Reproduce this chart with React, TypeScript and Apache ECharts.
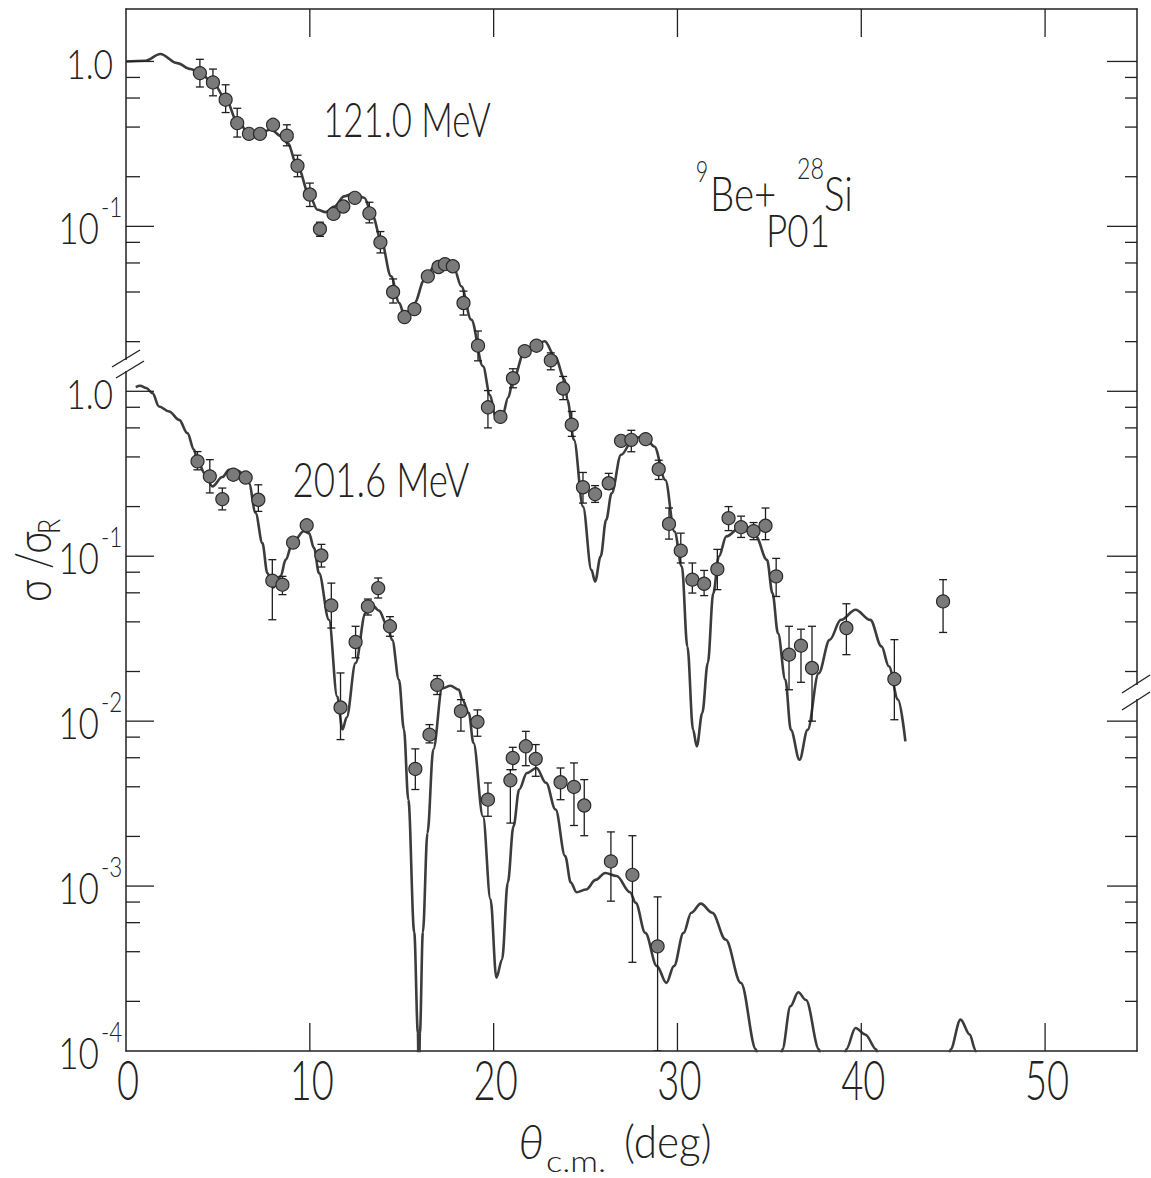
import React, { useEffect, useRef } from 'react';
import * as echarts from 'echarts';

// ---------- data: 121.0 MeV (upper panel, shifted up two decades) ----------
const UP_DEG = [4.02, 4.73, 5.42, 6.05, 6.69, 7.29, 8.0, 8.75, 9.33, 10.0, 10.55, 11.29, 11.82, 12.45, 13.24, 13.84, 14.53, 15.15, 15.69, 16.42, 17.0, 17.35, 17.78, 18.36, 19.15, 19.69, 20.37, 21.05, 21.69, 22.33, 23.11, 23.78, 24.25, 24.86, 25.52, 26.26, 26.93, 27.49, 28.27, 28.98, 29.54, 30.18, 30.81, 31.45, 32.17, 32.78, 33.46, 34.14, 34.79, 35.37, 36.07, 36.72, 37.32, 39.19, 41.8, 44.45];
const UP_VAL = [0.85, 0.746, 0.586, 0.423, 0.364, 0.364, 0.413, 0.355, 0.233, 0.156, 0.0964, 0.119, 0.132, 0.149, 0.12, 0.08, 0.04, 0.0282, 0.0315, 0.0498, 0.0567, 0.059, 0.0573, 0.0343, 0.0189, 0.008, 0.007, 0.012, 0.0175, 0.0189, 0.0154, 0.0104, 0.00627, 0.00262, 0.00238, 0.00277, 0.00501, 0.00508, 0.00513, 0.00337, 0.00157, 0.00108, 0.000721, 0.000681, 0.000835, 0.0017, 0.0015, 0.00142, 0.00153, 0.000755, 0.000253, 0.000287, 0.00021, 0.000367, 0.00018, 0.000532];
const UP_LO = [0.70, 0.619, 0.49, 0.348, 0.364, 0.364, 0.413, 0.308, 0.2, 0.132, 0.087, 0.119, 0.132, 0.149, 0.105, 0.069, 0.0343, 0.0282, 0.0315, 0.0498, 0.0567, 0.059, 0.0573, 0.029, 0.0153, 0.006, 0.007, 0.0105, 0.0175, 0.0189, 0.0135, 0.0089, 0.00533, 0.0021, 0.00212, 0.00255, 0.00501, 0.0043, 0.00513, 0.00292, 0.00127, 0.00091, 0.000598, 0.000577, 0.000627, 0.00143, 0.0013, 0.00126, 0.00126, 0.00057, 0.000155, 0.000172, 0.0001, 0.000253, 0.000102, 0.000345];
const UP_HI = [1.03, 0.899, 0.722, 0.52, 0.364, 0.364, 0.413, 0.413, 0.27, 0.183, 0.106, 0.119, 0.132, 0.149, 0.14, 0.093, 0.048, 0.0282, 0.0315, 0.0498, 0.0567, 0.059, 0.0573, 0.0405, 0.0232, 0.0101, 0.007, 0.0137, 0.0175, 0.0189, 0.0171, 0.0123, 0.00755, 0.00322, 0.00268, 0.00318, 0.00501, 0.0058, 0.00513, 0.00382, 0.00196, 0.00138, 0.00091, 0.00082, 0.0011, 0.002, 0.00175, 0.0016, 0.00196, 0.00097, 0.000376, 0.000361, 0.000376, 0.000515, 0.000312, 0.000721];

// ---------- data: 201.6 MeV (lower panel) ----------
const LO_DEG = [3.89, 4.56, 5.24, 5.84, 6.51, 7.2, 7.96, 8.51, 9.09, 9.83, 10.63, 11.17, 11.67, 12.49, 13.16, 13.72, 14.36, 15.74, 16.51, 16.93, 18.22, 19.12, 19.69, 20.91, 21.04, 21.75, 22.29, 23.64, 24.37, 24.93, 26.38, 27.55, 28.92];
const LO_VAL = [0.376, 0.305, 0.222, 0.312, 0.30, 0.22, 0.0711, 0.0672, 0.121, 0.154, 0.101, 0.0503, 0.0121, 0.0302, 0.0496, 0.0641, 0.0376, 0.00513, 0.00828, 0.0166, 0.0115, 0.0099, 0.00334, 0.00438, 0.00598, 0.00704, 0.0059, 0.00426, 0.00399, 0.00308, 0.00141, 0.00117, 0.000431];
const LO_LO = [0.334, 0.242, 0.191, 0.312, 0.30, 0.187, 0.0412, 0.0585, 0.121, 0.154, 0.086, 0.0367, 0.00773, 0.0242, 0.044, 0.0558, 0.0327, 0.00385, 0.00738, 0.0145, 0.0087, 0.0081, 0.00265, 0.00241, 0.00508, 0.00537, 0.00463, 0.00334, 0.00233, 0.00202, 0.00081, 0.000345, 0.0001];
const LO_HI = [0.431, 0.385, 0.259, 0.312, 0.30, 0.271, 0.0953, 0.0755, 0.121, 0.154, 0.118, 0.0687, 0.0196, 0.0376, 0.055, 0.0738, 0.043, 0.00679, 0.00953, 0.0189, 0.0135, 0.0117, 0.00422, 0.00508, 0.00694, 0.00867, 0.00721, 0.0052, 0.00558, 0.00442, 0.00213, 0.00202, 0.00086];

// ---------- optical-model curves ----------
const UP_TH_DEG = [0, 1.05, 1.87, 2.78, 3.51, 4.02, 4.73, 5.42, 6.05, 6.69, 7.29, 7.87, 8.5, 8.78, 9.33, 10.0, 10.42, 10.87, 11.33, 11.87, 12.42, 12.96, 13.42, 13.87, 14.42, 14.87, 15.15, 15.69, 16.24, 16.78, 17.36, 17.87, 18.24, 18.78, 19.42, 19.8, 20.1, 20.45, 20.8, 21.05, 21.69, 22.33, 22.78, 23.33, 23.87, 24.01, 24.37, 24.86, 25.32, 25.52, 25.82, 26.12, 26.42, 26.93, 27.63, 28.23, 28.74, 29.34, 29.84, 30.24, 30.54, 30.85, 31.05, 31.35, 31.65, 31.95, 32.25, 32.66, 33.46, 34.26, 34.87, 35.17, 35.47, 35.87, 36.17, 36.64, 37.08, 37.68, 38.28, 38.89, 39.69, 40.49, 41.1, 41.5, 42.0, 42.4];
const UP_TH_VAL = [1.0, 1.01, 1.11, 0.977, 0.90, 0.849, 0.746, 0.592, 0.433, 0.368, 0.37, 0.385, 0.35, 0.32, 0.231, 0.152, 0.126, 0.122, 0.132, 0.152, 0.159, 0.149, 0.115, 0.083, 0.0498, 0.0343, 0.0285, 0.0343, 0.0475, 0.0573, 0.0614, 0.0546, 0.0433, 0.0272, 0.0142, 0.0095, 0.007, 0.0069, 0.0092, 0.0117, 0.0175, 0.0192, 0.0201, 0.0163, 0.0118, 0.00887, 0.00508, 0.002, 0.000826, 0.000703, 0.000995, 0.00166, 0.00241, 0.00412, 0.0052, 0.00532, 0.00463, 0.0029, 0.00141, 0.000865, 0.000283, 0.0000885, 0.0000703, 0.000112, 0.000225, 0.000597, 0.000995, 0.00132, 0.00151, 0.00132, 0.000951, 0.000597, 0.000341, 0.000178, 0.0000885, 0.0000583, 0.0000885, 0.000195, 0.000311, 0.000411, 0.000474, 0.000411, 0.000284, 0.000215, 0.000135, 0.0000755];
const LO_TH_DEG = [0.53, 0.77, 1.1, 1.44, 1.8, 2.35, 2.89, 3.34, 3.7, 3.89, 4.3, 4.7, 5.24, 5.61, 6.06, 6.5, 6.69, 7.05, 7.42, 7.69, 8.0, 8.41, 8.69, 9.05, 9.68, 9.95, 10.23, 10.5, 11.04, 11.49, 11.78, 12.0, 12.49, 13.03, 13.35, 13.76, 14.21, 14.48, 14.85, 15.12, 15.36, 15.68, 15.88, 15.93, 15.99, 16.15, 16.4, 16.72, 17.2, 17.65, 18.11, 18.3, 18.65, 18.9, 19.42, 19.83, 20.15, 20.46, 20.77, 21.08, 21.39, 21.81, 22.33, 22.85, 23.37, 23.89, 24.2, 24.51, 25.03, 25.55, 26.07, 26.69, 27.42, 27.73, 28.25, 28.88, 29.4, 29.81, 30.33, 30.75, 31.27, 31.89, 32.62, 33.45, 34.28, 34.6, 35.4, 35.7, 36.15, 36.57, 36.99, 37.71, 38.0, 38.9, 39.17, 39.69, 40.21, 40.83, 41.1, 44.5, 44.85, 45.4, 45.9, 46.2, 46.5];
const LO_TH_VAL = [1.06, 1.08, 1.047, 0.975, 0.809, 0.755, 0.671, 0.558, 0.443, 0.376, 0.316, 0.265, 0.302, 0.334, 0.331, 0.309, 0.277, 0.183, 0.12, 0.079, 0.0646, 0.0755, 0.0953, 0.12, 0.142, 0.138, 0.112, 0.079, 0.0412, 0.0141, 0.0089, 0.0105, 0.0225, 0.0453, 0.0513, 0.0468, 0.038, 0.0311, 0.0178, 0.00891, 0.00334, 0.000525, 0.000129, 0.00005, 0.000129, 0.000525, 0.0021, 0.00676, 0.0158, 0.0164, 0.0155, 0.0135, 0.0112, 0.0074, 0.00265, 0.000832, 0.000278, 0.000359, 0.00105, 0.0023, 0.00385, 0.00485, 0.0052, 0.00423, 0.00291, 0.00152, 0.00105, 0.000918, 0.000953, 0.00109, 0.0012, 0.00115, 0.000918, 0.000791, 0.00052, 0.000327, 0.000259, 0.000327, 0.00052, 0.000689, 0.000783, 0.000689, 0.000474, 0.000259, 0.000102, 0.00004, 0.00004, 0.000102, 0.000187, 0.000227, 0.000204, 0.000102, 0.00004, 0.00004, 0.000102, 0.000138, 0.000126, 0.000102, 0.00004, 0.00004, 0.000102, 0.000155, 0.000126, 0.000102, 0.00004];

// ---------- axes ----------
const X_TICKS = [0, 10, 20, 30, 40, 50];
const X_TICK_LABELS = ['0', '10', '20', '30', '40', '50'];
const Y_LABEL_POS = [2, 1, 0, -1, -2, -3, -4]; // plotted decade (upper panel shifted by +2)
const Y_LABEL_BASE = ['1.0', '10', '1.0', '10', '10', '10', '10'];
const Y_LABEL_EXP = ['', '-1', '', '-1', '-2', '-3', '-4'];
const MINOR_MULT = [0.8, 0.6, 0.4, 0.2];
const LEFT_DECADES = [2, 1, 0, -1, -2, -3];
const RIGHT_DECADES = [2, 1, 0, -1, -2, -3];
const UPPER_SHIFT = 2;
const X_MAX = 55;
const Y_MIN = -4;
const Y_MAX = 2.318;

const FONT = 'Lato, "DejaVu Sans", sans-serif';
const FW = 300;
const SX = 0.74;
const INK = '#222';

const L = (v: number) => Math.log10(v);

function buildOption() {
  const upTheory = UP_TH_DEG.map((d, i) => [d, L(UP_TH_VAL[i]) + UPPER_SHIFT]);
  const loTheory = LO_TH_DEG.map((d, i) => [d, L(LO_TH_VAL[i])]);
  const upPts = UP_DEG.map((d, i) => [d, L(UP_VAL[i]) + UPPER_SHIFT]);
  const loPts = LO_DEG.map((d, i) => [d, L(LO_VAL[i])]);
  const errs = [
    ...UP_DEG.map((d, i) => [d, L(UP_LO[i]) + UPPER_SHIFT, L(UP_HI[i]) + UPPER_SHIFT]),
    ...LO_DEG.map((d, i) => [d, L(LO_LO[i]), L(LO_HI[i])]),
  ];

  // [x, y, direction(0 right,1 left,2 up,3 down), major]
  const ticks: number[][] = [];
  LEFT_DECADES.forEach((dec) => {
    ticks.push([0, dec, 0, 1]);
    MINOR_MULT.forEach((m) => ticks.push([0, dec - 1 + L(m * 10), 0, 0]));
  });
  RIGHT_DECADES.forEach((dec) => {
    ticks.push([X_MAX, dec, 1, 1]);
    MINOR_MULT.forEach((m) => ticks.push([X_MAX, dec - 1 + L(m * 10), 1, 0]));
  });
  X_TICKS.filter((x) => x > 0).forEach((x) => {
    ticks.push([x, Y_MIN, 2, 1]);
    ticks.push([x, Y_MAX, 3, 1]);
  });

  const txt = (x: number, y: number, text: string, size: number, align = 'center', extra: any = {}, sx = SX) => ({
    type: 'text',
    x,
    y,
    scaleX: sx,
    style: { text, fontSize: size, fontFamily: FONT, fontWeight: FW, fill: INK, align, verticalAlign: 'middle', ...extra },
  });

  const xAxisBase = {
    type: 'value', min: 0, max: X_MAX, interval: 10,
    axisLine: { onZero: false, lineStyle: { color: INK, width: 1.5 } },
    axisTick: { show: false },
    axisLabel: { show: false }, splitLine: { show: false },
  };
  const yAxisBase = {
    type: 'value', min: Y_MIN, max: Y_MAX,
    axisLine: { show: true, onZero: false, lineStyle: { color: INK, width: 1.5 } },
    axisTick: { show: false }, axisLabel: { show: false }, splitLine: { show: false },
  };

  return {
    animation: false,
    backgroundColor: '#fff',
    grid: { left: 126, top: 9, width: 1011, height: 1042 },
    xAxis: [
      { ...xAxisBase, position: 'bottom' },
      { ...xAxisBase, position: 'top' },
    ],
    yAxis: [
      { ...yAxisBase, position: 'left' },
      { ...yAxisBase, position: 'right' },
    ],
    series: [
      {
        type: 'line', data: upTheory, showSymbol: false, smooth: 0.35, smoothMonotone: 'x',
        lineStyle: { color: '#3c3c3c', width: 2.6 }, z: 2, clip: true,
      },
      {
        type: 'line', data: loTheory, showSymbol: false, smooth: 0.35, smoothMonotone: 'x',
        lineStyle: { color: '#3c3c3c', width: 2.6 }, z: 2, clip: true,
      },
      {
        type: 'custom', data: errs, z: 3, clip: true,
        renderItem: (params: any, api: any) => {
          const x = api.value(0);
          const a = api.coord([x, api.value(1)]);
          const b = api.coord([x, api.value(2)]);
          if (Math.abs(a[1] - b[1]) < 13) return { type: 'group', children: [] };
          const s = { stroke: '#1e1e1e', lineWidth: 1.3 };
          const c = 4;
          return {
            type: 'group',
            children: [
              { type: 'line', shape: { x1: a[0], y1: a[1], x2: b[0], y2: b[1] }, style: s },
              { type: 'line', shape: { x1: a[0] - c, y1: a[1], x2: a[0] + c, y2: a[1] }, style: s },
              { type: 'line', shape: { x1: b[0] - c, y1: b[1], x2: b[0] + c, y2: b[1] }, style: s },
            ],
          };
        },
      },
      {
        type: 'scatter', data: upPts, symbol: 'circle', symbolSize: 13, z: 4,
        itemStyle: { color: '#7a7a7a', borderColor: '#2a2a2a', borderWidth: 1.2, opacity: 1 },
      },
      {
        type: 'scatter', data: loPts, symbol: 'circle', symbolSize: 13, z: 4,
        itemStyle: { color: '#7a7a7a', borderColor: '#2a2a2a', borderWidth: 1.2, opacity: 1 },
      },
      {
        type: 'custom', data: ticks, z: 5, silent: true,
        renderItem: (params: any, api: any) => {
          const p = api.coord([api.value(0), api.value(1)]);
          const dir = api.value(2);
          const major = api.value(3);
          let x2 = p[0];
          let y2 = p[1];
          if (dir === 0) x2 = p[0] + (major ? 28 : 14);
          else if (dir === 1) x2 = p[0] - (major ? 30 : 12);
          else if (dir === 2) y2 = p[1] - 28;
          else y2 = p[1] + 28;
          return { type: 'line', shape: { x1: p[0], y1: p[1], x2, y2 }, style: { stroke: INK, lineWidth: 1.3 } };
        },
      },
      {
        type: 'custom', data: Y_LABEL_POS.map((y, i) => [0, y, i]), z: 5, silent: true,
        renderItem: (params: any, api: any) => {
          const i = api.value(2);
          const p = api.coord([0, api.value(1)]);
          const base = Y_LABEL_BASE[i];
          const exp = Y_LABEL_EXP[i];
          if (!exp) return txt(p[0] - 13, p[1] + 1, base, 42, 'right', {}, 0.8);
          return {
            type: 'group',
            children: [
              txt(p[0] - 27, p[1] + 1, base, 44, 'right', {}, 0.8),
              txt(p[0] - 25, p[1] - 20, exp, 28, 'left', {}, 0.8),
            ],
          };
        },
      },
      {
        type: 'custom', data: X_TICKS.map((x, i) => [x, Y_MIN, i]), z: 5, silent: true,
        renderItem: (params: any, api: any) => {
          const i = api.value(2);
          const p = api.coord([api.value(0), api.value(1)]);
          return txt(p[0] + 2, p[1] + 27, X_TICK_LABELS[i], 56, 'center', {}, 0.68);
        },
      },
    ],
    graphic: [
      // axis breaks
      { type: 'rect', z: 100, shape: { x: 121, y: 360, width: 10, height: 11 }, style: { fill: '#fff' } },
      { type: 'line', z: 101, shape: { x1: 112, y1: 367, x2: 140, y2: 350 }, style: { stroke: INK, lineWidth: 1.4 } },
      { type: 'line', z: 101, shape: { x1: 116, y1: 378, x2: 144, y2: 361 }, style: { stroke: INK, lineWidth: 1.4 } },
      { type: 'rect', z: 100, shape: { x: 1132, y: 685, width: 10, height: 14 }, style: { fill: '#fff' } },
      { type: 'line', z: 101, shape: { x1: 1122, y1: 693, x2: 1150, y2: 675 }, style: { stroke: INK, lineWidth: 1.4 } },
      { type: 'line', z: 101, shape: { x1: 1122, y1: 710, x2: 1150, y2: 692 }, style: { stroke: INK, lineWidth: 1.4 } },
      // annotations
      { ...txt(407, 119, '121.0 MeV', 47), z: 100 },
      { ...txt(381, 479, '201.6 MeV', 47, 'center', {}, 0.78), z: 100 },
      { ...txt(702, 171, '9', 29), z: 100 },
      { ...txt(710, 192, 'Be+', 48, 'left', {}, 0.8), z: 100 },
      { ...txt(797, 168, '28', 29, 'left', {}, 0.8), z: 100 },
      { ...txt(824, 192, 'Si', 48, 'left', {}, 0.8), z: 100 },
      { ...txt(798, 229, 'P01', 46, 'center', {}, 0.8), z: 100 },
      // axis titles
      {
        type: 'group', x: 32, y: 602, rotation: Math.PI / 2, z: 100,
        children: [
          { type: 'text', x: 0, y: 0, scaleX: 0.78, style: { text: 'σ /σ', fontSize: 50, fontFamily: FONT, fontWeight: FW, fill: INK, align: 'left', verticalAlign: 'middle' } },
          { type: 'text', x: 68, y: 16, scaleX: 0.78, style: { text: 'R', fontSize: 32, fontFamily: FONT, fontWeight: FW, fill: INK, align: 'left', verticalAlign: 'middle' } },
        ],
      },
      { ...txt(531, 1141, 'θ', 48, 'center', { fontStyle: 'italic' }, 0.95), z: 100 },
      { ...txt(546, 1160, 'c.m.', 30, 'left', {}, 1.15), z: 100 },
      { ...txt(624, 1140, '(deg)', 46, 'left', {}, 0.92), z: 100 },
    ],
  };
}

export default function App() {
  const ref = useRef<HTMLDivElement>(null);
  useEffect(() => {
    if (!ref.current) return;
    const chart = echarts.init(ref.current, null, { renderer: 'svg' });
    chart.setOption(buildOption() as any);
    return () => chart.dispose();
  }, []);
  return (
    <div
      ref={ref}
      style={{ position: 'absolute', left: 0, top: 0, width: 1151, height: 1178, background: '#fff' }}
    />
  );
}
